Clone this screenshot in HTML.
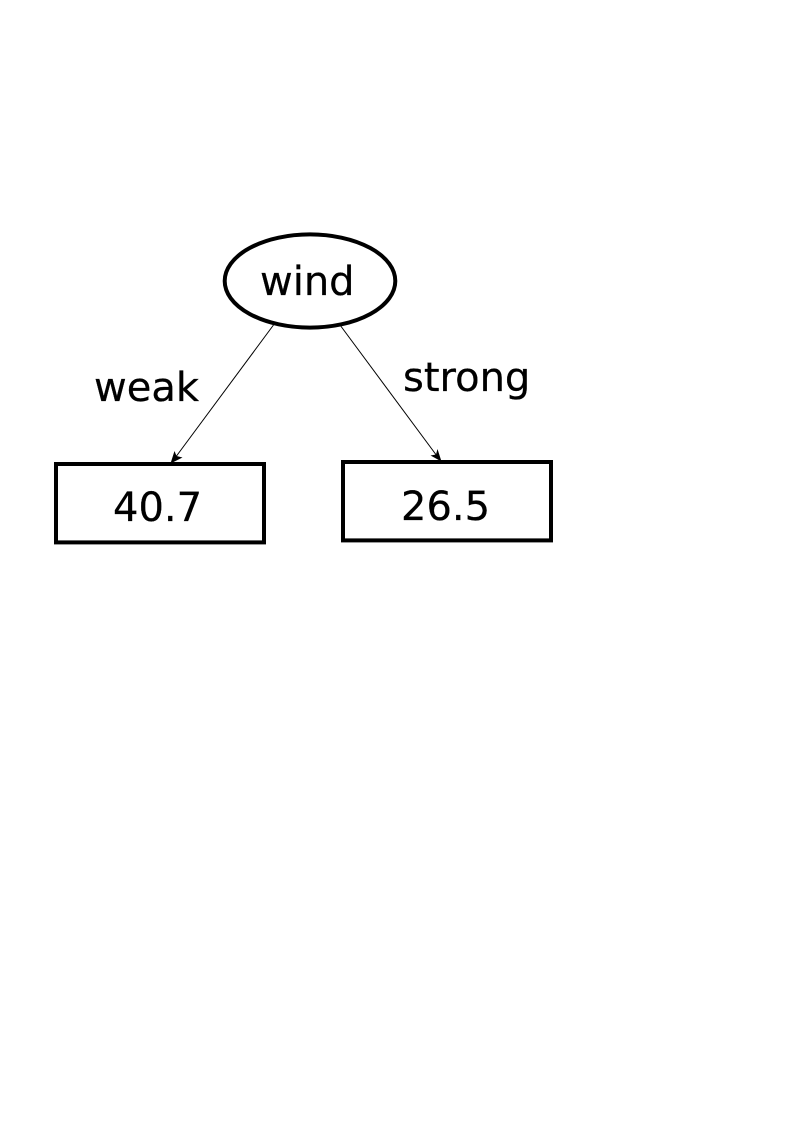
<!DOCTYPE html>
<html lang="en">
<head>
<meta charset="utf-8">
<title>Decision tree: wind</title>
<style>
html,body{margin:0;padding:0;background:#fff;width:794px;height:1123px;overflow:hidden}
svg{display:block}
text{font-family:"DejaVu Sans",sans-serif;font-size:40px;fill:#000;stroke:#000;stroke-width:0.25px}
</style>
</head>
<body>
<svg width="794" height="1123" viewBox="0 0 794 1123">
  <rect x="0" y="0" width="794" height="1123" fill="#fff"/>
  <g>
    <line x1="273.5" y1="325" x2="175" y2="458" stroke="#000" stroke-width="1"/>
    <polygon points="170.5,463.5 174.5,451 176.5,456 182.5,457.5" fill="#000"/>
  </g>
  <g>
    <line x1="340" y1="325" x2="437" y2="456" stroke="#000" stroke-width="1"/>
    <polygon points="441.5,461.5 430.5,455.5 436,454.5 437.5,449" fill="#000"/>
  </g>
  <ellipse cx="310" cy="281" rx="85.3" ry="46.6" fill="#fff" stroke="#000" stroke-width="4"/>
  <text x="260" y="295">wind</text>
  <text x="94" y="401">weak</text>
  <text x="403" y="391">strong</text>
  <rect x="56" y="464" width="208" height="78.4" fill="#fff" stroke="#000" stroke-width="4"/>
  <text x="113" y="521">40.7</text>
  <rect x="343" y="462" width="208" height="78.4" fill="#fff" stroke="#000" stroke-width="4"/>
  <text x="401" y="520">26.5</text>
</svg>
</body>
</html>
